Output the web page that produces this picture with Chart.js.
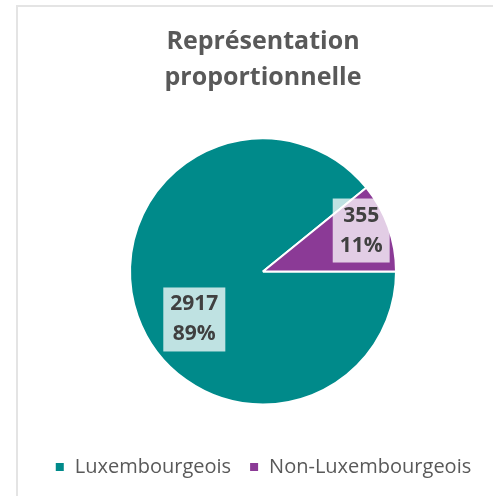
<!DOCTYPE html>
<html>
<head>
<meta charset="utf-8">
<script src="https://cdn.jsdelivr.net/npm/chart.js@4/dist/chart.umd.min.js"></script>
<style>
  html, body { margin: 0; padding: 0; background: #fff; }
  #frame {
    position: absolute; left: 16px; top: 5px; width: 600px; height: 600px;
    border-top: 2px solid #e4e4e4; border-left: 2px solid #e4e4e4;
  }
  #wrap { position: absolute; left: 0; top: 0; width: 493px; height: 496px; }
</style>
</head>
<body>
<div id="frame"></div>
<div id="wrap"><canvas id="chart"></canvas></div>
<script>
// Data
const categories = ["Luxembourgeois", "Non-Luxembourgeois"];
const counts = [2917, 355];
const percentLabels = ["89%", "11%"];
const sliceColors = ["#008a8a", "#8b3a96"];

// Draws the "value / percent" boxes on each slice
const sliceLabels = {
  id: "sliceLabels",
  afterDatasetsDraw(chart, args, opts) {
    const { ctx } = chart;
    const arcs = chart.getDatasetMeta(0).data;
    ctx.save();
    ctx.font = "bold 21px 'Open Sans'";
    ctx.textAlign = "center";
    ctx.textBaseline = "middle";
    arcs.forEach((arc, i) => {
      const p = arc.getProps(["x", "y", "startAngle", "endAngle", "outerRadius"], true);
      const place = opts.placement[i];
      const a = p.startAngle + (p.endAngle - p.startAngle) * place.along;
      const cx = p.x + Math.cos(a) * p.outerRadius * place.radius;
      const cy = p.y + Math.sin(a) * p.outerRadius * place.radius;
      const lines = [String(counts[i]), percentLabels[i]];
      const w = Math.max(...lines.map(t => ctx.measureText(t).width)) + opts.padX * 2;
      const h = lines.length * opts.lineHeight + opts.padY * 2;
      ctx.fillStyle = "rgba(255,255,255,0.75)";
      ctx.fillRect(cx - w / 2, cy - h / 2, w, h);
      ctx.fillStyle = "#404040";
      lines.forEach((t, j) => {
        ctx.fillText(t, cx, cy - h / 2 + opts.padY + opts.lineHeight * (j + 0.5));
      });
    });
    ctx.restore();
  }
};

new Chart(document.getElementById("chart"), {
  type: "pie",
  data: {
    labels: categories,
    datasets: [{
      data: counts,
      backgroundColor: sliceColors,
      borderColor: "#ffffff",
      borderWidth: 2
    }]
  },
  options: {
    responsive: true,
    maintainAspectRatio: false,
    animation: false,
    rotation: 90,
    layout: { padding: { top: 10, bottom: 9, left: 33, right: 0 } },
    plugins: {
      title: {
        display: true,
        text: ["Représentation", "proportionnelle"],
        color: "#595959",
        font: { family: "'Open Sans'", size: 25, weight: "bold", lineHeight: 36 / 25 },
        padding: { top: 14, bottom: 41.5 }
      },
      legend: {
        position: "bottom",
        title: { display: true, text: "", font: { size: 1, lineHeight: 1 }, padding: { top: 0, bottom: 32.5 } },
        labels: {
          boxWidth: 10,
          boxHeight: 10,
          padding: 18,
          color: "#595959",
          font: { family: "'Open Sans'", size: 20 }
        }
      },
      tooltip: { enabled: false },
      sliceLabels: {
        placement: [{ along: 0.452, radius: 0.63 }, { along: 0.42, radius: 0.80 }],
        padX: 7,
        padY: 2,
        lineHeight: 30
      }
    }
  },
  plugins: [sliceLabels]
});
</script>
</body>
</html>
